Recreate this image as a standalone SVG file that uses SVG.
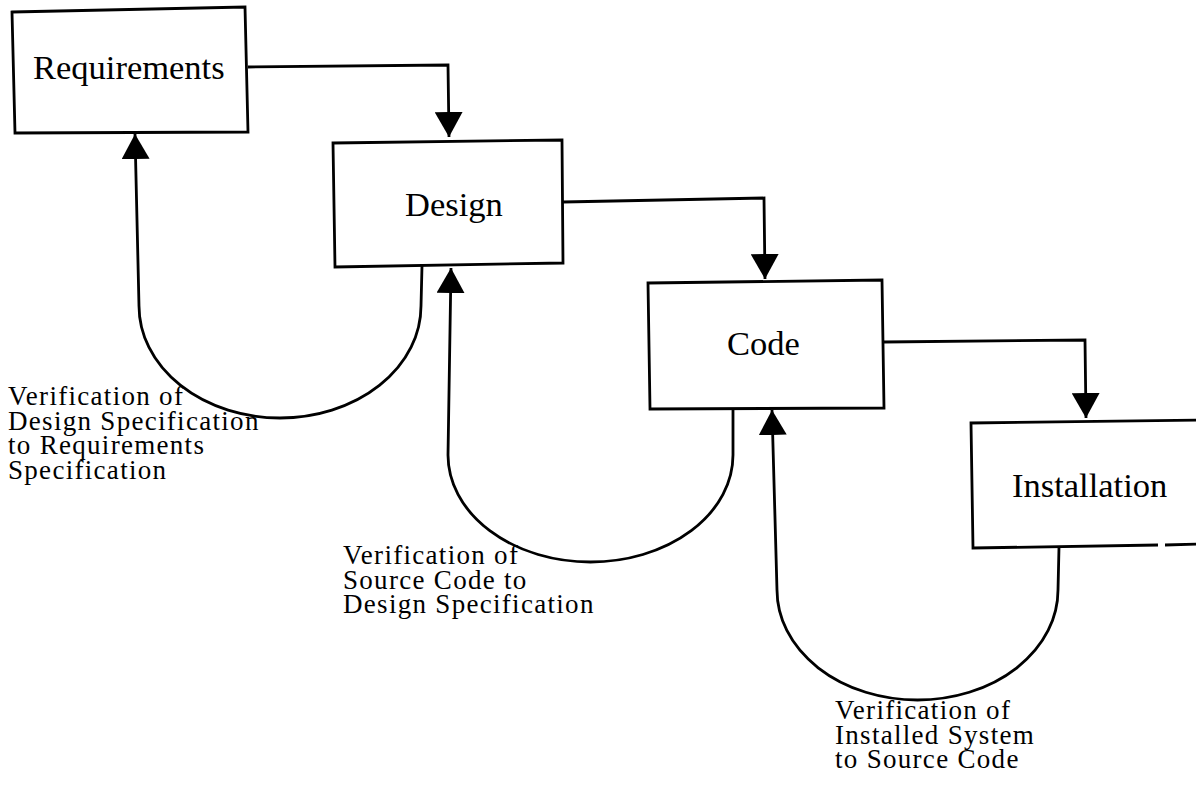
<svg xmlns="http://www.w3.org/2000/svg" width="1196" height="793" viewBox="0 0 1196 793">
  <style>
    .box { fill: #ffffff; stroke: #000000; stroke-width: 2.8; stroke-linejoin: miter; }
    .wire { fill: none; stroke: #000000; stroke-width: 2.8; stroke-linejoin: miter; }
    .title { font-family: "Liberation Serif", "Times New Roman", serif; font-size: 34.5px; fill: #000000; }
    .note { font-family: "Liberation Serif", "Times New Roman", serif; font-size: 27px; letter-spacing: 1.3px; fill: #000000; }
  </style>
  <defs>
    <marker id="head" markerUnits="userSpaceOnUse" markerWidth="26" markerHeight="28" refX="25" refY="14" orient="auto" viewBox="0 0 26 28">
      <path d="M0,0 L25,14 L0,28 Z" fill="#000000"/>
    </marker>
  </defs>
  <rect x="0" y="0" width="1196" height="793" fill="#ffffff"/>

  <!-- forward flow and verification loops -->
  <g id="connectors">
    <path class="wire" d="M 248 67 L 448 65 L 449 137" marker-end="url(#head)"/>
    <path class="wire" d="M 563 202 L 764 198 L 765 279" marker-end="url(#head)"/>
    <path class="wire" d="M 884 342 L 1085 340 L 1086 418" marker-end="url(#head)"/>
    <path class="wire" d="M 422 266 L 421 306 A 141 112 0 0 1 139 306 L 135 134" marker-end="url(#head)"/>
    <path class="wire" d="M 733 408 L 733 455 A 142.5 107 0 0 1 448 455 L 451 268" marker-end="url(#head)"/>
    <path class="wire" d="M 1059 547 L 1058 590 A 140.5 110 0 0 1 777 590 L 772 410" marker-end="url(#head)"/>
  </g>

  <g id="requirements">
    <path class="box" d="M 12 12 L 245 7 L 248 132 L 15 133 Z"/>
    <text class="title" x="33" y="79">Requirements</text>
  </g>

  <g id="design">
    <path class="box" d="M 333 143 L 562 140 L 563 263 L 335 267 Z"/>
    <text class="title" x="405" y="216">Design</text>
  </g>

  <g id="code">
    <path class="box" d="M 648 283 L 882 280 L 884 408 L 650 409 Z"/>
    <text class="title" x="727" y="355">Code</text>
  </g>

  <g id="installation">
    <path class="box" d="M 1200 420 L 971 423 L 973 548 L 1158 545"/>
    <path class="wire" d="M 1165 545 L 1200 544"/>
    <text class="title" x="1012" y="497">Installation</text>
  </g>

  <g id="labels">
    <text class="note" x="8" y="405">Verification of</text>
    <text class="note" x="8" y="429.5">Design Specification</text>
    <text class="note" x="8" y="454">to Requirements</text>
    <text class="note" x="8" y="478.5">Specification</text>

    <text class="note" x="343" y="564">Verification of</text>
    <text class="note" x="343" y="588.5">Source Code to</text>
    <text class="note" x="343" y="613">Design Specification</text>

    <text class="note" x="835" y="719">Verification of</text>
    <text class="note" x="835" y="743.5">Installed System</text>
    <text class="note" x="835" y="768">to Source Code</text>
  </g>
</svg>
